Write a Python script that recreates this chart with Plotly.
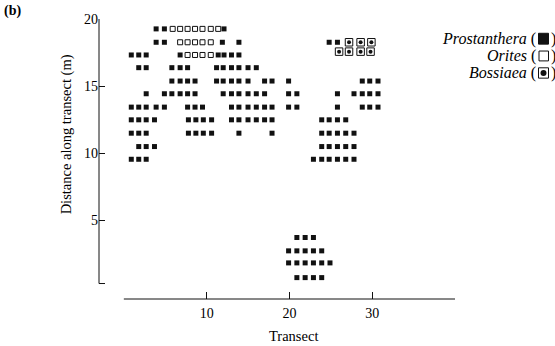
import plotly.graph_objects as go

# Distance along the transect (m) of each sampled row, top to bottom
row_dist = [19.3, 18.3, 17.35, 16.4, 15.4, 14.45, 13.45, 12.5, 11.5, 10.5, 9.55,
            3.7, 2.7, 1.8, 0.7]

# Transects where Prostanthera was recorded, one list per row of row_dist
prostanthera_transects = [
    [3.9, 4.9, 12.1],
    [3.9, 4.9, 11.9, 13.9, 24.8, 25.8],
    [0.9, 1.8, 2.7, 6.8, 11.4, 12.1, 13.0, 13.9],
    [1.8, 2.7, 5.8, 6.8, 7.7, 11.2, 12.0, 13.0, 13.9, 15.0, 16.0],
    [5.8, 6.8, 7.7, 8.6, 11.2, 12.0, 13.0, 13.9, 15.0, 17.0, 17.9, 19.9,
     28.8, 29.7, 30.7],
    [2.7, 4.9, 5.8, 6.8, 7.7, 8.6, 12.0, 13.0, 13.9, 15.0, 16.0, 17.0,
     19.9, 20.9, 25.8, 27.8, 28.8, 29.7, 30.7],
    [0.9, 1.8, 2.7, 3.9, 4.9, 7.7, 8.6, 9.5, 13.0, 13.9, 15.0, 16.0, 17.0,
     17.9, 19.9, 20.9, 25.8, 28.8, 29.7, 30.7],
    [0.9, 1.8, 2.7, 3.7, 7.8, 8.7, 9.6, 10.6, 13.0, 13.9, 15.0, 16.0, 17.0,
     17.9, 23.9, 24.8, 25.8, 26.8],
    [0.9, 1.8, 2.7, 7.8, 8.7, 9.6, 10.6, 13.9, 17.9, 23.9, 24.8, 25.8,
     26.8, 27.8],
    [1.8, 2.7, 3.7, 23.9, 24.8, 25.8, 26.8, 27.8],
    [0.9, 1.8, 2.7, 22.9, 23.9, 24.8, 25.8, 26.8, 27.8],
    [20.9, 21.9, 22.9],
    [19.9, 20.9, 21.9, 22.9, 23.9],
    [19.9, 20.9, 21.9, 22.9, 23.9, 24.9],
    [20.9, 21.9, 22.9, 23.9],
]

# Orites records
orites_dist = [19.3, 18.3, 17.35]
orites_transects = [
    [5.9, 6.8, 7.7, 8.6, 9.5, 10.5, 11.4],
    [6.8, 7.7, 8.6, 9.5, 10.5],
    [7.7, 8.6, 9.5, 10.5],
]

# Bossiaea records
bossiaea_dist = [18.3, 17.6]
bossiaea_transects = [
    [27.2, 28.6, 29.9],
    [26.0, 27.2, 28.6, 29.8],
]

x_ticks = [10, 20, 30]
y_ticks = [5, 10, 15, 20]
species = ["Prostanthera", "Orites", "Bossiaea"]


def expand(dists, transects):
    xs, ys = [], []
    for d, row in zip(dists, transects):
        xs.extend(row)
        ys.extend([d] * len(row))
    return xs, ys


pro_x, pro_y = expand(row_dist, prostanthera_transects)
ori_x, ori_y = expand(orites_dist, orites_transects)
bos_x, bos_y = expand(bossiaea_dist, bossiaea_transects)

INK = "#111111"
SERIF = "Liberation Serif"

# plot-area geometry in pixels
W, H = 555, 346
L, R, T, B = 99, 100, 15, 47
PW, PH = W - L - R, H - T - B


def px(xp):
    return (xp - L) / PW


def py(yp):
    return (H - B - yp) / PH


fig = go.Figure()

fig.add_trace(go.Scatter(
    x=pro_x, y=pro_y, mode="markers", name=species[0],
    marker=dict(symbol="square", size=5, color=INK, line=dict(width=0)),
))
fig.add_trace(go.Scatter(
    x=ori_x, y=ori_y, mode="markers", name=species[1],
    marker=dict(symbol="square-open", size=5, color=INK, line=dict(width=1, color=INK)),
))
fig.add_trace(go.Scatter(
    x=bos_x, y=bos_y, mode="markers", name=species[2],
    marker=dict(symbol="square-open", size=7.5, color=INK, line=dict(width=1, color=INK)),
))
fig.add_trace(go.Scatter(
    x=bos_x, y=bos_y, mode="markers", showlegend=False,
    marker=dict(symbol="circle", size=4, color=INK, line=dict(width=0)),
))

axis_font = dict(family=SERIF, size=14, color="black")

fig.update_xaxes(
    range=[-3.0, 40.0], tickvals=x_ticks, ticks="inside", ticklen=7,
    tickwidth=1, tickcolor=INK, showgrid=False, zeroline=False, showline=False,
    tickfont=axis_font, ticklabelstandoff=4,
)
fig.update_yaxes(
    range=[-0.9, 20.04], tickvals=y_ticks, ticks="inside", ticklen=6,
    tickwidth=1, tickcolor=INK, showgrid=False, zeroline=False, showline=False,
    tickfont=axis_font,
)

shapes = [
    # y axis line with a closing tick at its foot
    dict(type="line", xref="paper", yref="paper", x0=0, x1=0,
         y0=py(283.3), y1=1, line=dict(color=INK, width=1)),
    dict(type="line", xref="paper", yref="paper", x0=0, x1=px(L + 6),
         y0=py(283.3), y1=py(283.3), line=dict(color=INK, width=1)),
    # x axis line
    dict(type="line", xref="x", yref="paper", x0=0, x1=40, y0=0, y1=0,
         line=dict(color=INK, width=1)),
    # key symbols
    dict(type="rect", xref="paper", yref="paper", x0=px(538.5), x1=px(548.5),
         y0=py(40.5), y1=py(29.5), fillcolor=INK, line=dict(color=INK, width=1)),
    dict(type="rect", xref="paper", yref="paper", x0=px(539), x1=px(548.5),
         y0=py(57.5), y1=py(47.5), fillcolor="white", line=dict(color=INK, width=1)),
    dict(type="rect", xref="paper", yref="paper", x0=px(538.5), x1=px(548.5),
         y0=py(75), y1=py(64.5), fillcolor="white", line=dict(color=INK, width=1)),
    dict(type="circle", xref="paper", yref="paper", x0=px(540.5), x1=px(546.5),
         y0=py(72.7), y1=py(66.7), fillcolor=INK, line=dict(color=INK, width=0)),
]

key_font = dict(family=SERIF, size=16, color="black")
key_rows = [35, 52.3, 69.7]
annotations = []
for name, yc in zip(species, key_rows):
    annotations.append(dict(
        text=f"<i>{name}</i> (", xref="paper", yref="paper",
        x=px(538), y=py(yc), xanchor="right", yanchor="middle",
        showarrow=False, font=key_font,
    ))
    annotations.append(dict(
        text=")", xref="paper", yref="paper",
        x=px(549), y=py(yc), xanchor="left", yanchor="middle",
        showarrow=False, font=key_font,
    ))

annotations += [
    dict(text="<b>(b)</b>", xref="paper", yref="paper", x=px(2), y=py(7),
         xanchor="left", yanchor="middle", showarrow=False,
         font=dict(family=SERIF, size=14, color="black")),
    dict(text="Distance along transect (m)", xref="paper", yref="paper",
         x=px(66), y=py(132), xanchor="center", yanchor="middle",
         textangle=-90, showarrow=False,
         font=dict(family=SERIF, size=14.5, color="black")),
    dict(text="Transect", xref="paper", yref="paper",
         x=px(293.5), y=py(337), xanchor="center", yanchor="middle",
         showarrow=False, font=dict(family=SERIF, size=14.5, color="black")),
]

fig.update_layout(
    width=W, height=H,
    margin=dict(l=L, r=R, t=T, b=B, pad=0),
    paper_bgcolor="white", plot_bgcolor="white",
    showlegend=False,
    shapes=shapes, annotations=annotations,
)

fig.write_html("out.html")
